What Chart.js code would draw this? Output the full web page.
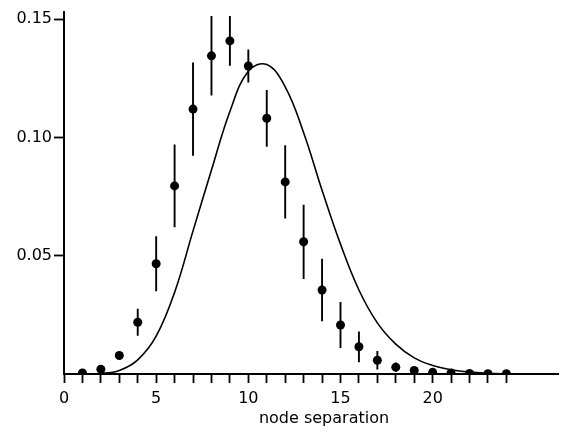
<!DOCTYPE html>
<html>
<head>
<meta charset="utf-8">
<script src="https://cdn.jsdelivr.net/npm/chart.js@4/dist/chart.umd.min.js"></script>
<style>
html,body{margin:0;padding:0;background:#fff;}
#wrap{width:565px;height:434px;}
</style>
</head>
<body>
<div id="wrap"><canvas id="chart" width="565" height="434"></canvas></div>
<script>

// measured points (node separation vs fraction) with error bars
const sepX = [1,2,3,4,5,6,7,8,9,10,11,12,13,14,15,16,17,18,19,20,21,22,23,24];
const fracY = [0.0004,0.002,0.0078,0.0219,0.0466,0.0795,0.112,0.1345,0.1408,0.1302,0.1081,0.0812,
0.0559,0.0355,0.0207,0.0115,0.0058,0.0029,0.0015,0.0007,0.0004,0.0002,0.0001,0.0001];
const fracErr = [0.0003,0.0008,0.0012,0.0057,0.0116,0.0175,0.0197,0.0168,0.0105,0.007,0.012,0.0155,
0.0157,0.0132,0.0097,0.0065,0.0039,0.002,0.001,0.0006,0.0003,0.0002,0.0001,0.0001];

// model curve
const curveX = [0,1,2,3,4,5,6,7,8,9,10,11,12,13,14,15,16,17,18,19,20,21,22,23,24,25,26];
const curveY = [0,0,0.0002,0.0015,0.006,0.016,0.0345,0.0605,0.0862,0.1110,0.1280,0.1308,
0.1214,0.102,0.0777,0.0549,0.0355,0.0216,0.0126,0.0068,0.0036,0.0018,0.0008,0.0003,0.0001,0,0];

// axes
const xTicks = [0,1,2,3,4,5,6,7,8,9,10,11,12,13,14,15,16,17,18,19,20,21,22,23,24];
const xLabelAt = [0,5,10,15,20];
const xTickLabels = ['0','5','10','15','20'];
const yTicks = [0.05,0.10,0.15];
const yTickLabels = ['0.05','0.10','0.15'];
const xTitle = 'node separation';

const FONT = "'DejaVu Sans', sans-serif";

// error bars + axis title
const extras = {
id:'extras',
afterDatasetsDraw(chart){
const ctx = chart.ctx;
const xs = chart.scales.x, ys = chart.scales.y;
const area = chart.chartArea;
ctx.save();
ctx.beginPath();
ctx.rect(area.left, area.top, area.right-area.left, area.bottom-area.top);
ctx.clip();
ctx.strokeStyle = '#000';
ctx.lineWidth = 1.9;
for(let i=0;i<sepX.length;i++){
const px = xs.getPixelForValue(sepX[i]);
const top = ys.getPixelForValue(fracY[i]+fracErr[i]);
const bot = ys.getPixelForValue(fracY[i]-fracErr[i]);
ctx.beginPath();
ctx.moveTo(px, top);
ctx.lineTo(px, bot);
ctx.stroke();
}
ctx.restore();
},
afterDraw(chart){
const ctx = chart.ctx;
const area = chart.chartArea;
ctx.save();
ctx.fillStyle = '#000';
ctx.font = "16px " + FONT;
ctx.textAlign = 'center';
ctx.textBaseline = 'alphabetic';
ctx.fillText(xTitle, (area.left+area.right)/2 + 13, 423);
ctx.restore();
}
};

const ctx = document.getElementById('chart').getContext('2d');

const chart = new Chart(ctx,{
type:'scatter',
data:{
datasets:[
{
label:'model',
data:curveX.map((x,i)=>({x:x,y:curveY[i]})),
showLine:true,
borderColor:'#000',
borderWidth:1.6,
pointRadius:0,
tension:0.4,
fill:false
},
{
label:'data',
data:sepX.map((x,i)=>({x:x,y:fracY[i]})),
pointRadius:4.5,
pointBackgroundColor:'#000',
pointBorderColor:'#000',
pointBorderWidth:0
}
]
},
plugins:[extras],
options:{
responsive:false,
animation:false,
layout:{padding:{top:5,right:7,left:0,bottom:0}},
plugins:{legend:{display:false},tooltip:{enabled:false}},
scales:{
x:{
type:'linear',
min:0,
max:26.8,
afterBuildTicks:(s)=>{ s.ticks = xTicks.map(v=>({value:v})); },
afterFit:(s)=>{ s.height = 60; },
ticks:{
autoSkip:false,
maxRotation:0,
padding:6,
color:'#000',
font:{family:FONT,size:16},
callback:(v)=>{ const k = xLabelAt.indexOf(v); return k>=0 ? xTickLabels[k] : ''; }
},
grid:{drawOnChartArea:false,drawTicks:true,tickLength:9,tickColor:'#000',tickWidth:1.8},
border:{display:true,color:'#000',width:2}
},
y:{
type:'linear',
min:0,
max:0.1532,
afterBuildTicks:(s)=>{ s.ticks = yTicks.map(v=>({value:v})); },
afterFit:(s)=>{ s.width = 64; },
ticks:{
padding:2,
color:'#000',
font:{family:FONT,size:16},
callback:(v,i)=>yTickLabels[i]
},
grid:{drawOnChartArea:false,drawTicks:true,tickLength:10,tickColor:'#000',tickWidth:1.8},
border:{display:true,color:'#000',width:2}
}
}
}
});

</script>
</body>
</html>
